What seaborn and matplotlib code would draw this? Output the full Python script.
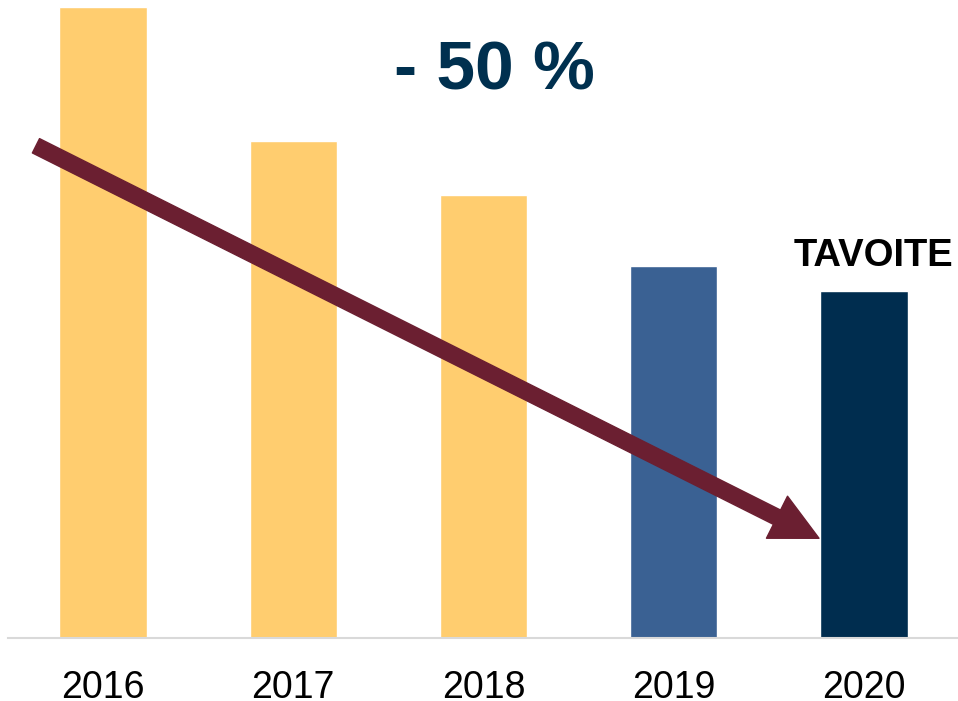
import matplotlib
matplotlib.use("Agg")
import matplotlib.pyplot as plt
import seaborn as sns
import pandas as pd

# values (2016 = 100)
years = ["2016", "2017", "2018", "2019", "2020"]
values = [100.0, 78.8, 70.2, 59.0, 55.0]
colors = ["#FFCD6F", "#FFCD6F", "#FFCD6F", "#3A6193", "#002D4F"]
headline = "- 50 %"
target_label = "TAVOITE"

df = pd.DataFrame({"year": years, "value": values})

sns.set_style("white")
plt.rcParams["font.family"] = ["Liberation Sans", "DejaVu Sans"]

fig = plt.figure(figsize=(9.58, 7.01), dpi=100)
ax = fig.add_axes([8 / 958, 63 / 701, 951 / 958, 638 / 701])

sns.barplot(data=df, x="year", y="value", hue="year", palette=colors,
            legend=False, width=0.46, saturation=1, ax=ax)

ax.set_xlim(-0.5, 4.5)
ax.set_ylim(0, 101.1)
ax.set_xlabel("")
ax.set_ylabel("")
ax.set_yticks([])
ax.tick_params(axis="x", length=0, pad=23, labelsize=27, colors="black")
for side in ["left", "right", "top"]:
    ax.spines[side].set_visible(False)
ax.spines["bottom"].set_color("#D9D9D9")
ax.spines["bottom"].set_linewidth(1.5)

# trend arrow
ax.annotate("", xy=(3.764, 15.8), xytext=(-0.353, 78.0),
            arrowprops=dict(arrowstyle="simple,head_length=0.47,head_width=0.47,tail_width=0.16",
                            mutation_scale=72, color="#6B1F31", shrinkA=0, shrinkB=0))

ax.text(2.06, 89.8, headline, ha="center", va="center", fontsize=50,
        fontweight="bold", color="#00304F")
ax.text(4.05, 60.5, target_label, ha="center", va="center", fontsize=27.5,
        fontweight="bold", color="black")

fig.savefig("out.png", dpi=100)
